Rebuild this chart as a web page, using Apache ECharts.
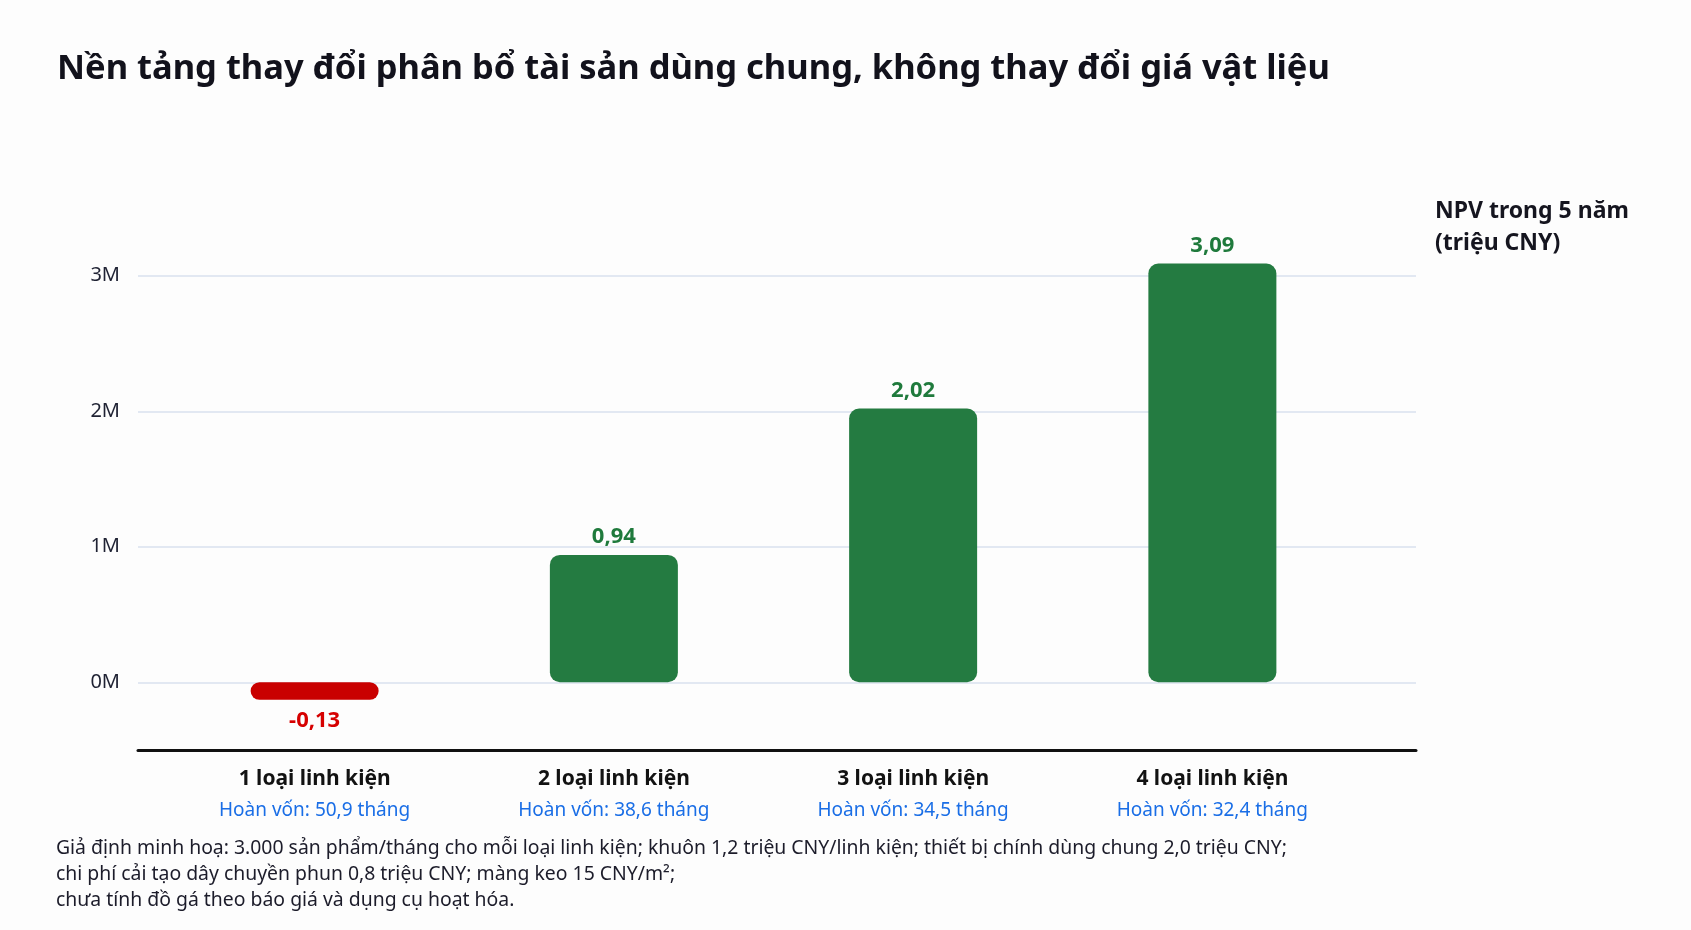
<!DOCTYPE html>
<html>
<head>
<meta charset="utf-8">
<script src="https://cdn.jsdelivr.net/npm/echarts@6/dist/echarts.min.js"></script>
<style>
  html, body { margin: 0; padding: 0; background: #fdfdfd; }
  #chart { width: 1691px; height: 930px; }
</style>
</head>
<body>
<div id="chart"></div>
<script>
// du lieu
const categories = ['1 loại linh kiện', '2 loại linh kiện', '3 loại linh kiện', '4 loại linh kiện'];
const npvMillion = [-0.13, 0.94, 2.02, 3.09];
const paybackMonths = [50.9, 38.6, 34.5, 32.4];
const yTicks = { min: -0.5, max: 3.5, step: 0.5 };

const titleText = 'Nền tảng thay đổi phân bổ tài sản dùng chung, không thay đổi giá vật liệu';
const unitText = 'NPV trong 5 năm\n(triệu CNY)';
const noteText = 'Giả định minh hoạ: 3.000 sản phẩm/tháng cho mỗi loại linh kiện; khuôn 1,2 triệu CNY/linh kiện; thiết bị chính dùng chung 2,0 triệu CNY;\n' +
  'chi phí cải tạo dây chuyền phun 0,8 triệu CNY; màng keo 15 CNY/m²;\n' +
  'chưa tính đồ gá theo báo giá và dụng cụ hoạt hóa.';

const FONT = '"Noto Sans", "Open Sans", sans-serif';
const GREEN = '#247b41';
const RED = '#c90000';

const fmt = (v, d) => v.toFixed(d).replace('.', ',');

const chart = echarts.init(document.getElementById('chart'));

chart.setOption({
  backgroundColor: '#fdfdfd',
  textStyle: { fontFamily: FONT },
  title: {
    text: titleText,
    left: 52,
    top: 47,
    textStyle: { fontSize: 34.5, fontWeight: 'bold', color: '#12121c', fontFamily: FONT }
  },
  graphic: [
    {
      type: 'text',
      left: 1435,
      top: 195,
      style: { text: unitText, font: 'bold 23px ' + FONT, fill: '#15151f', lineHeight: 32 }
    },
    {
      type: 'text',
      left: 56,
      top: 835,
      style: { text: noteText, font: '19.4px ' + FONT, fill: '#1c1c2a', lineHeight: 26 }
    }
  ],
  grid: [
    // luoi nen: duong luoi + truc den
    { left: 138, right: 275, top: 208, bottom: 180 },
    // luoi cot
    { left: 165, right: 329, top: 208, bottom: 180 }
  ],
  xAxis: [
    {
      gridIndex: 0,
      type: 'value',
      min: 0, max: 1,
      axisLine: { show: true, onZero: false, lineStyle: { color: '#111', width: 3 } },
      axisTick: { show: false },
      axisLabel: { show: false },
      splitLine: { show: false }
    },
    {
      gridIndex: 1,
      type: 'category',
      data: categories,
      axisLine: { show: false },
      axisTick: { show: false },
      axisLabel: {
        interval: 0,
        margin: 14,
        formatter: (v, i) => '{a|' + v + '}\n{b|Hoàn vốn: ' + fmt(paybackMonths[i], 1) + ' tháng}',
        rich: {
          a: { fontSize: 21, fontWeight: 'bold', color: '#121212', lineHeight: 31, fontFamily: FONT },
          b: { fontSize: 19, color: '#1a6ee6', lineHeight: 31, fontFamily: FONT }
        }
      }
    }
  ],
  yAxis: [
    {
      gridIndex: 0,
      type: 'value',
      min: yTicks.min, max: yTicks.max, interval: yTicks.step,
      axisLine: { show: false },
      axisTick: { show: false },
      axisLabel: {
        margin: 18,
        fontSize: 20,
        color: '#1f2233',
        formatter: v => Number.isInteger(v) ? v + 'M' : ''
      },
      splitLine: { lineStyle: { color: ['transparent', '#d9e0ee'], width: 1.5 } }
    },
    {
      gridIndex: 1,
      type: 'value',
      min: yTicks.min, max: yTicks.max, interval: yTicks.step,
      show: false,
      splitLine: { show: false }
    }
  ],
  series: [
    {
      type: 'bar',
      xAxisIndex: 1,
      yAxisIndex: 1,
      barWidth: 128,
      data: npvMillion.map(v => ({
        value: v,
        itemStyle: { color: v < 0 ? RED : GREEN, borderRadius: 10 },
        label: {
          show: true,
          position: v < 0 ? 'bottom' : 'top',
          distance: v < 0 ? 10 : 7,
          formatter: fmt(v, 2),
          fontSize: 22,
          fontWeight: 'bold',
          color: v < 0 ? '#d60000' : '#1f7a3c'
        }
      }))
    }
  ]
});
</script>
</body>
</html>
